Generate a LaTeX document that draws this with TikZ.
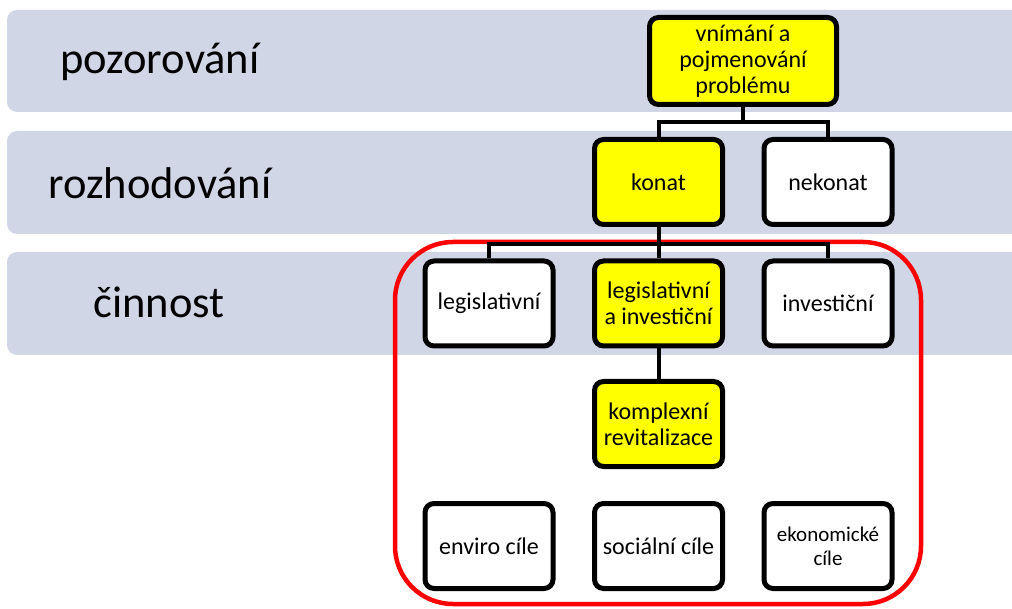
\documentclass[tikz,border=0pt]{standalone}
\usepackage{fontspec}
\setmainfont{Carlito}
\definecolor{bandfill}{HTML}{D0D6E6}
\definecolor{boxyellow}{HTML}{FFFF00}
\definecolor{loopred}{HTML}{FF0000}
\begin{document}
\begin{tikzpicture}[x=1pt,y=-1pt,
  band/.style={fill=bandfill,draw=none,rounded corners=10pt},
  bandlabel/.style={font=\fontsize{44.5}{48}\selectfont,anchor=center},
  stepbox/.style={draw=black,line width=5pt,rounded corners=9pt,
    minimum width=128pt,minimum height=85pt,inner sep=2pt,align=center,
    font=\fontsize{24}{26}\selectfont},
  hot/.style={stepbox,fill=boxyellow},
  cold/.style={stepbox,fill=white},
  link/.style={draw=black,line width=4pt}]
\clip (0,0) rectangle (1012,609);
\fill[white] (0,0) rectangle (1012,609);

% three stage bands
\path[band] (7,10) rectangle (1040,112);
\path[band] (7,131) rectangle (1040,234);
\path[band] (7,252) rectangle (1040,355);
\node[bandlabel] (l1) at (160,62) {pozorování};
\node[bandlabel] (l2) at (160,183) {rozhodování};
\node[bandlabel] (l3) at (159,302) {činnost};

% red frame around the activity part
\draw[loopred,line width=4.5pt,rounded corners=58pt] (395,242) rectangle (921,604);

% decision tree
\node[hot,minimum width=187pt,minimum height=87pt] (vn) at (743,61)
  {vnímání a\\pojmenování\\problému};
\node[hot] (konat) at (658.5,182) {konat};
\node[cold] (nekonat) at (828,182) {nekonat};
\node[cold] (legis) at (489,303.5) {legislativní};
\node[hot] (leginv) at (658.5,303.5) {legislativní\\a investiční};
\node[cold] (invest) at (828,303.5) {investiční};
\node[hot] (kompl) at (658.5,424) {komplexní\\revitalizace};
\node[cold] (env) at (489,546) {enviro cíle};
\node[cold] (soc) at (658.5,546) {sociální cíle};
\node[cold,font=\fontsize{21}{24}\selectfont] (eko) at (828,546) {ekonomické\\cíle};

\coordinate (j1) at (743,122);
\coordinate (j2) at (658.5,244);
\draw[link] (vn.south) -- (j1);
\draw[link] (konat.north) |- (j1) -| (nekonat.north);
\draw[link] (konat.south) -- (j2);
\draw[link] (legis.north) |- (j2) -| (invest.north);
\draw[link] (j2) -- (leginv.north);
\draw[link] (leginv.south) -- (kompl.north);
\end{tikzpicture}
\end{document}
